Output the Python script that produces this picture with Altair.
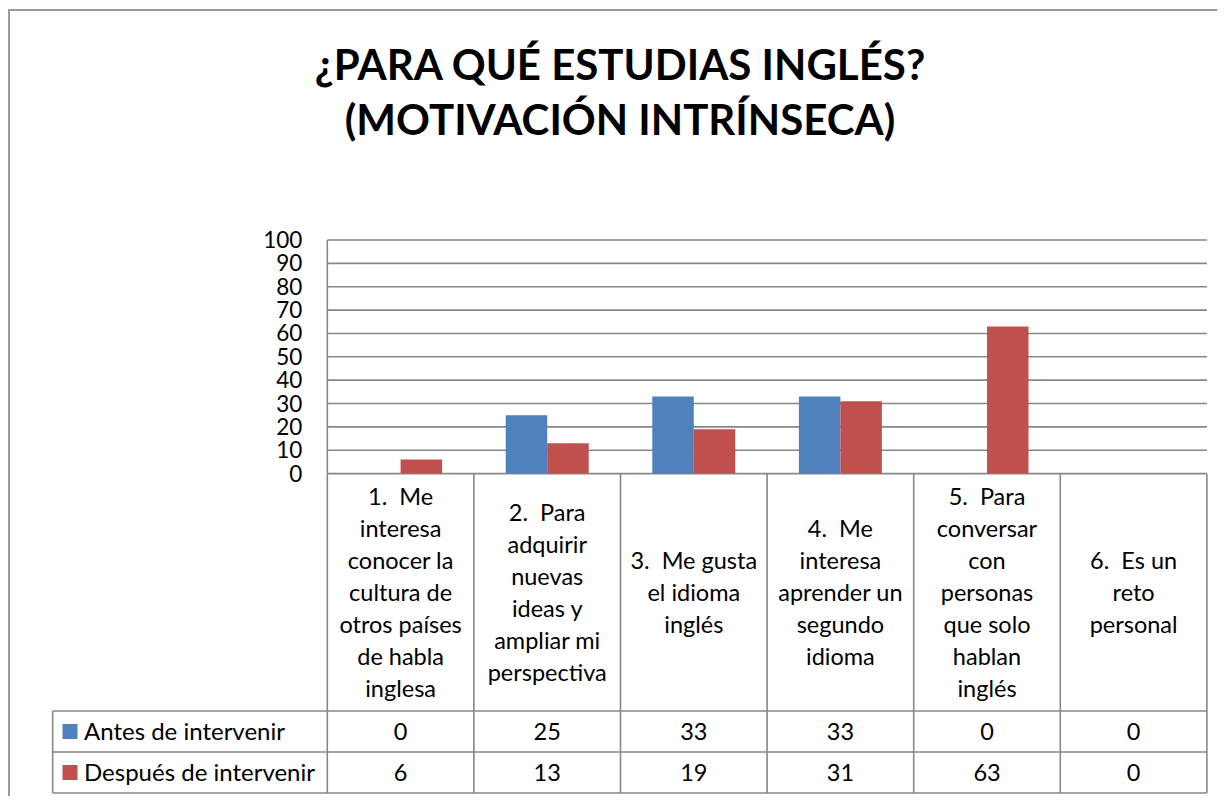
import altair as alt
import pandas as pd

# ---------------- data ----------------
NB = "\u00a0"
categories = [
    "1." + NB + " Me\ninteresa\nconocer la\ncultura de\notros países\nde habla\ninglesa",
    "2." + NB + " Para\nadquirir\nnuevas\nideas y\nampliar mi\nperspectiva",
    "3." + NB + " Me gusta\nel idioma\ninglés",
    "4." + NB + " Me\ninteresa\naprender un\nsegundo\nidioma",
    "5." + NB + " Para\nconversar\ncon\npersonas\nque solo\nhablan\ninglés",
    "6." + NB + " Es un\nreto\npersonal",
]
series = ["Antes de intervenir", "Después de intervenir"]
antes = [0, 25, 33, 33, 0, 0]
despues = [6, 13, 19, 31, 63, 0]
y_ticks = [0, 10, 20, 30, 40, 50, 60, 70, 80, 90, 100]
colors = ["#4F81BD", "#C0504D"]
title_lines = ["¿PARA QUÉ ESTUDIAS INGLÉS?", "(MOTIVACIÓN INTRÍNSECA)"]

# ---------------- layout (page pixels) ----------------
ORIGIN = 8
W, H = 1225 - 2 * ORIGIN, 804 - 2 * ORIGIN   # fits the window with the page margin
PLOT_LEFT = 327.3         # page x of category 0 left edge
CAT_W = 146.6             # pixel width of one category
Y0 = 473.6                # page y of value 0
PX_PER_UNIT = 2.336       # pixels per value unit
BAR_W = 41.5 / CAT_W      # bar width in category units
LINE_H = 32
FS = 23.5

x_dom = [(ORIGIN - PLOT_LEFT) / CAT_W, (ORIGIN + W - PLOT_LEFT) / CAT_W]
y_dom = [(Y0 - (ORIGIN + H)) / PX_PER_UNIT, (Y0 - ORIGIN) / PX_PER_UNIT]
XS = alt.Scale(domain=x_dom, zero=False, nice=False)
YS = alt.Scale(domain=y_dom, zero=False, nice=False)

def cy(page_y):
    return page_y - ORIGIN

TABLE_LEFT = (52.7 - PLOT_LEFT) / CAT_W
ROW_TOP = cy(474)
ROW1 = cy(711)
ROW2 = cy(752)
ROW3 = cy(793)

FONT = "Lato"
GRAY = "#878787"
N = len(categories)

# ---------------- tables ----------------
bars = pd.DataFrame(
    [{"i": i, "serie": series[0], "v": antes[i], "k": 0} for i in range(N)]
    + [{"i": i, "serie": series[1], "v": despues[i], "k": 1} for i in range(N)]
)
color_scale = alt.Scale(domain=series, range=colors)

layers = []

# gridlines
grid = alt.Chart(pd.DataFrame({"t": y_ticks})).mark_rule(color=GRAY, strokeWidth=1.6).encode(
    y=alt.Y("t:Q", scale=YS, axis=None),
    x=alt.XDatum(0, scale=XS, axis=None),
    x2=alt.X2Datum(N),
)
layers.append(grid)

# y axis line
yaxis = alt.Chart(pd.DataFrame({"a": [0], "b": [100]})).mark_rule(color=GRAY, strokeWidth=1.6).encode(
    x=alt.XDatum(0, scale=XS, axis=None),
    y=alt.Y("a:Q", scale=YS, axis=None),
    y2="b:Q",
)
layers.append(yaxis)

# y tick labels
ylab = alt.Chart(pd.DataFrame({"t": y_ticks})).mark_text(
    align="right", baseline="middle", dx=-25, dy=1, font=FONT, fontSize=22.5, color="black"
).encode(
    y=alt.Y("t:Q", scale=YS, axis=None),
    x=alt.XDatum(0, scale=XS, axis=None),
    text=alt.Text("t:Q"),
)
layers.append(ylab)

# bars
barc = alt.Chart(bars).transform_calculate(
    xs="datum.i + 0.5 - " + str(BAR_W) + " + datum.k * " + str(BAR_W),
    xe="datum.i + 0.5 + datum.k * " + str(BAR_W),
).mark_bar(stroke=None).encode(
    x=alt.X("xs:Q", scale=XS, axis=None),
    x2="xe:Q",
    y=alt.Y("v:Q", scale=YS, axis=None),
    y2=alt.Y2Datum(0),
    color=alt.Color("serie:N", scale=color_scale, legend=None),
)
layers.append(barc)

# table verticals
tv = alt.Chart(pd.DataFrame({"b": list(range(N + 1))})).mark_rule(color=GRAY, strokeWidth=1.6).encode(
    x=alt.X("b:Q", scale=XS, axis=None),
    y=alt.value(ROW_TOP),
    y2=alt.value(ROW3),
)
layers.append(tv)

# table horizontals
th = alt.Chart(pd.DataFrame({"yp": [ROW1, ROW2, ROW3]})).mark_rule(color=GRAY, strokeWidth=1.6).encode(
    y=alt.Y("yp:Q", scale=None),
    x=alt.XDatum(TABLE_LEFT, scale=XS, axis=None),
    x2=alt.X2Datum(N),
)
layers.append(th)

# table left vertical
tl = alt.Chart(pd.DataFrame({"a": [0]})).mark_rule(color=GRAY, strokeWidth=1.6).encode(
    x=alt.XDatum(TABLE_LEFT, scale=XS, axis=None),
    y=alt.value(ROW1),
    y2=alt.value(ROW3),
)
layers.append(tl)

# category labels (multi-line, vertically centred in the label row)
center = (ROW_TOP + ROW1) / 2 + 1
catdf = pd.DataFrame({
    "c": [i + 0.5 for i in range(N)],
    "label": categories,
    "yfirst": [center - (lab.count("\n")) * LINE_H / 2 for lab in categories],
})
catl = alt.Chart(catdf).mark_text(
    align="center", baseline="middle", lineBreak="\n", lineHeight=LINE_H,
    font=FONT, fontSize=FS, color="black"
).encode(
    x=alt.X("c:Q", scale=XS, axis=None),
    y=alt.Y("yfirst:Q", scale=None),
    text="label:N",
)
layers.append(catl)

# value cells
for k, vals in enumerate([antes, despues]):
    row_mid = (ROW1 + ROW2) / 2 if k == 0 else (ROW2 + ROW3) / 2
    vdf = pd.DataFrame({"c": [i + 0.5 for i in range(N)], "v": vals})
    layers.append(
        alt.Chart(vdf).mark_text(
            align="center", baseline="middle", font=FONT, fontSize=FS, color="black"
        ).encode(
            x=alt.X("c:Q", scale=XS, axis=None),
            y=alt.value(row_mid + 1),
            text=alt.Text("v:Q"),
        )
    )

# legend keys in the table
legdf = pd.DataFrame({"serie": series, "ym": [(ROW1 + ROW2) / 2, (ROW2 + ROW3) / 2]})
layers.append(
    alt.Chart(legdf).mark_square(size=225, opacity=1, filled=True).encode(
        x=alt.value(70 - ORIGIN),
        y=alt.Y("ym:Q", scale=None),
        color=alt.Color("serie:N", scale=color_scale, legend=None),
    )
)
layers.append(
    alt.Chart(legdf).mark_text(
        align="left", baseline="middle", font=FONT, fontSize=24, color="black", dy=1
    ).encode(
        x=alt.value(84 - ORIGIN),
        y=alt.Y("ym:Q", scale=None),
        text="serie:N",
    )
)

# title
titdf = pd.DataFrame({"t": title_lines, "yb": [cy(80), cy(135)]})
layers.append(
    alt.Chart(titdf).mark_text(
        align="center", baseline="alphabetic", font=FONT, fontSize=42, fontWeight="bold", color="black"
    ).encode(
        x=alt.value(620 - ORIGIN),
        y=alt.Y("yb:Q", scale=None),
        text="t:N",
    )
)

# outer frame
layers.append(
    alt.Chart(pd.DataFrame({"a": [0]})).mark_rule(color="#9a9a9a", strokeWidth=2).encode(
        x=alt.value(0), x2=alt.value(W), y=alt.value(cy(10))
    )
)
layers.append(
    alt.Chart(pd.DataFrame({"a": [0]})).mark_rule(color="#9a9a9a", strokeWidth=2).encode(
        x=alt.value(1), y=alt.value(cy(10)), y2=alt.value(H)
    )
)

chart = alt.layer(*layers).properties(
    width=W, height=H, autosize=alt.AutoSizeParams(type="none"), padding=0
).configure_view(stroke=None)

chart.save("out.html", embed_options={"renderer": "svg", "actions": False})
